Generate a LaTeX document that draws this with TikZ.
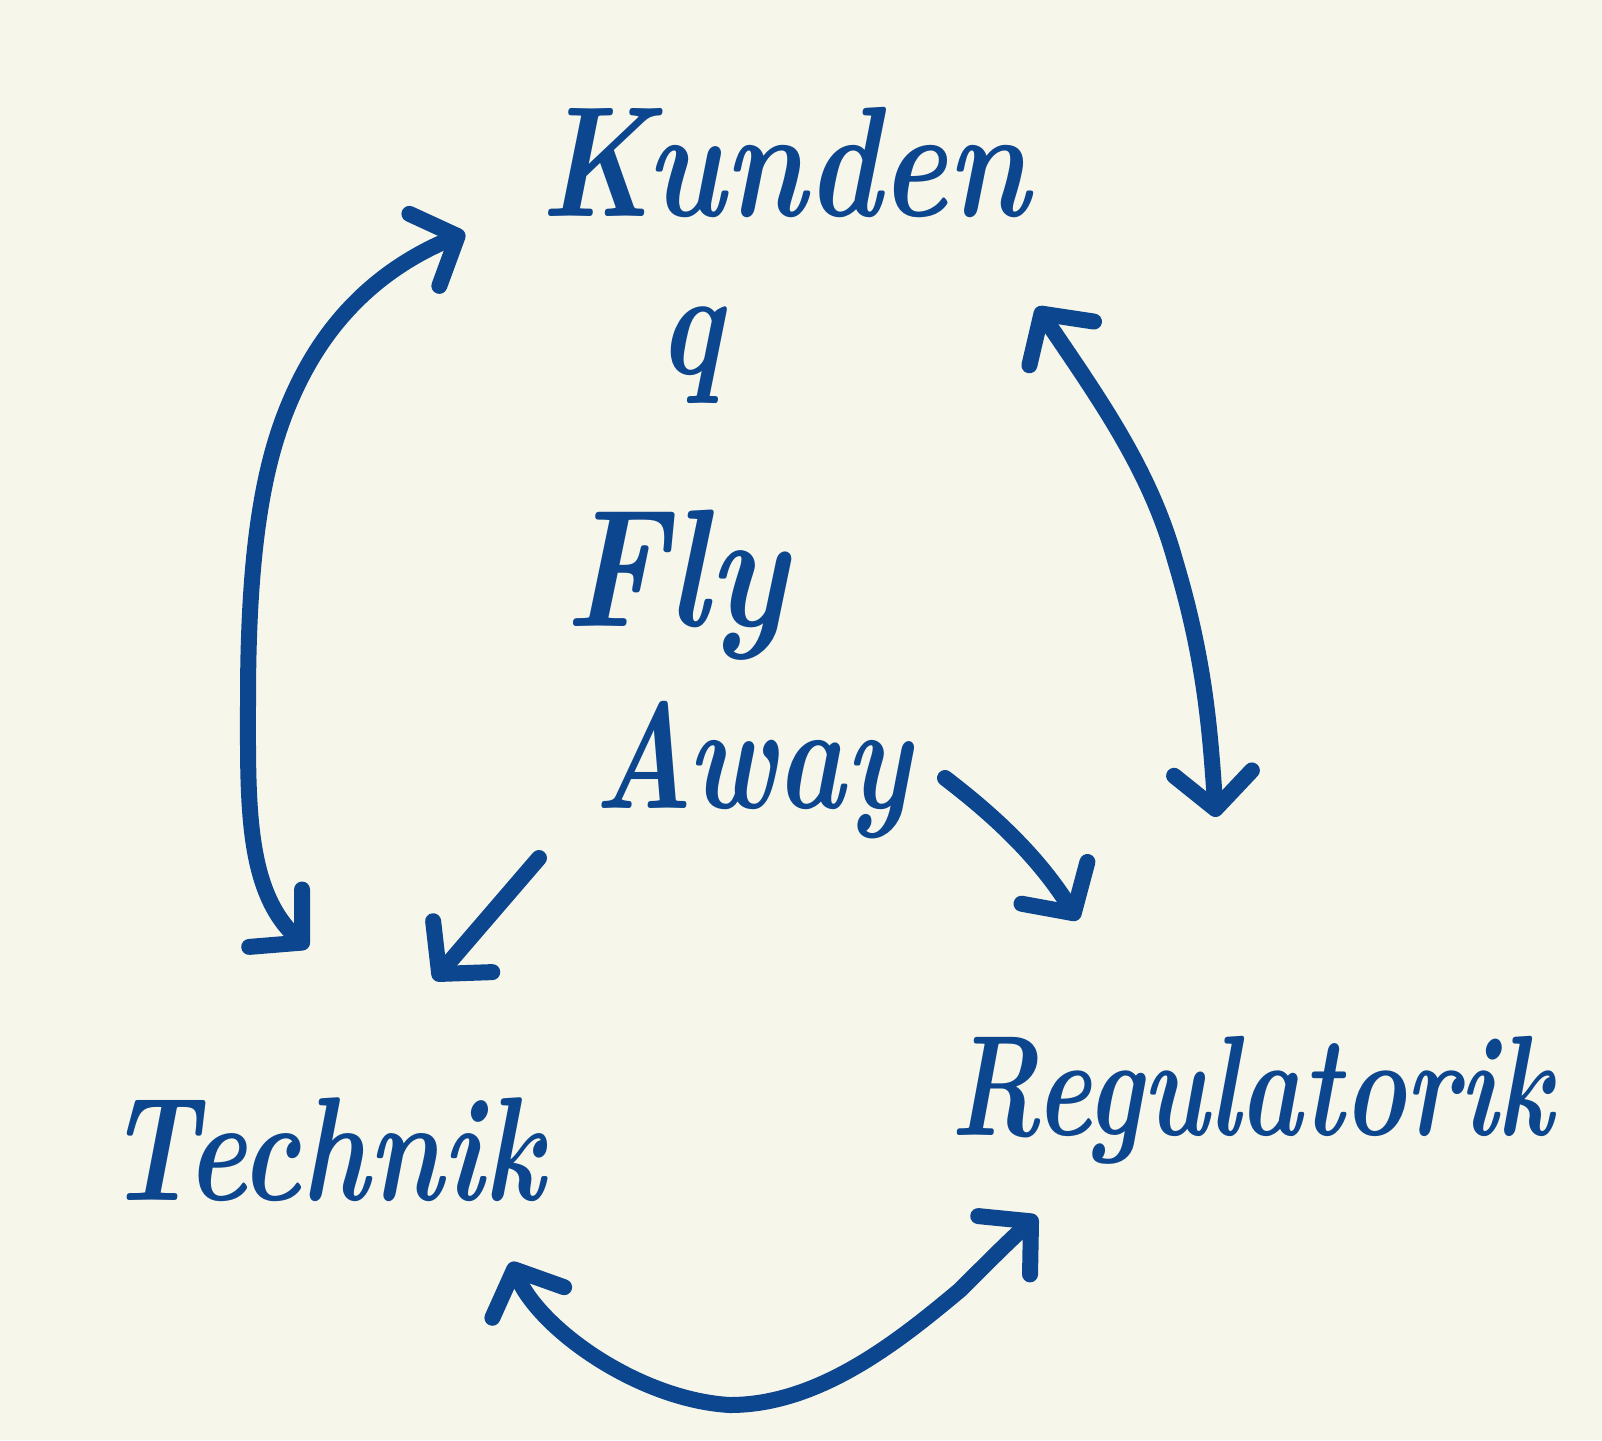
\documentclass[tikz,border=0pt]{standalone}
\usetikzlibrary{arrows.meta}
\definecolor{ink}{RGB}{12,70,142}
\definecolor{paper}{RGB}{247,246,234}
\tikzset{
  word/.style={text=ink, inner sep=0pt},
  barb/.tip={Straight Barb[length=36pt,width=78pt,round]},
  link/.style={draw=ink, line width=16pt, line cap=round, line join=round, barb-barb},
  pointer/.style={draw=ink, line width=16pt, line cap=round, line join=round, -barb}
}
\begin{document}
\begin{tikzpicture}[x=1pt,y=-1pt]
\fill[paper] (0,0) rectangle (1602,1440);
\useasboundingbox (0,0) rectangle (1602,1440);
% labels
\node[word, font=\bfseries\itshape\fontsize{126}{150}\selectfont, yscale=1.25] (kunden) at (785,162) {Kunden};
\node[word, font=\bfseries\itshape\fontsize{120}{140}\selectfont, yscale=1.25] (q) at (690,355) {q};
\node[word, font=\bfseries\itshape\fontsize{140}{160}\selectfont, yscale=1.2] (fly) at (676,585) {Fly};
\node[word, font=\bfseries\itshape\fontsize{116}{150}\selectfont, yscale=1.3] (away) at (752,770) {Away};
\node[word, font=\bfseries\itshape\fontsize{114}{140}\selectfont, yscale=1.3] (technik) at (325,1150) {Technik};
\node[word, font=\bfseries\itshape\fontsize{106}{140}\selectfont, yscale=1.35] (regulatorik) at (1252,1100) {Regulatorik};
% arrow end points
\coordinate (kl) at (465,233);
\coordinate (tl) at (308,948);
\coordinate (kr) at (1037,307);
\coordinate (rr) at (1216,817);
\coordinate (tb) at (511,1262);
\coordinate (rb) at (1037,1216);
\coordinate (ft) at (434,980);
\coordinate (fts) at (539,858);
\coordinate (fr) at (1078,920);
\coordinate (frs) at (945,778);
% connectors
\draw[link] (tl) .. controls (245,890) and (248,800) .. (248,700)
  .. controls (248,520) and (270,440) .. (300,380)
  .. controls (340,300) and (400,260) .. (kl);
\draw[link] (kr) .. controls (1100,400) and (1150,470) .. (1175,560)
  .. controls (1205,660) and (1210,730) .. (rr);
\draw[link] (tb) .. controls (540,1330) and (640,1400) .. (730,1405)
  .. controls (820,1405) and (900,1340) .. (960,1290)
  .. controls (990,1260) and (1010,1240) .. (rb);
\draw[pointer] (fts) -- (ft);
\draw[pointer] (frs) .. controls (1000,820) and (1040,860) .. (fr);
\end{tikzpicture}
\end{document}
